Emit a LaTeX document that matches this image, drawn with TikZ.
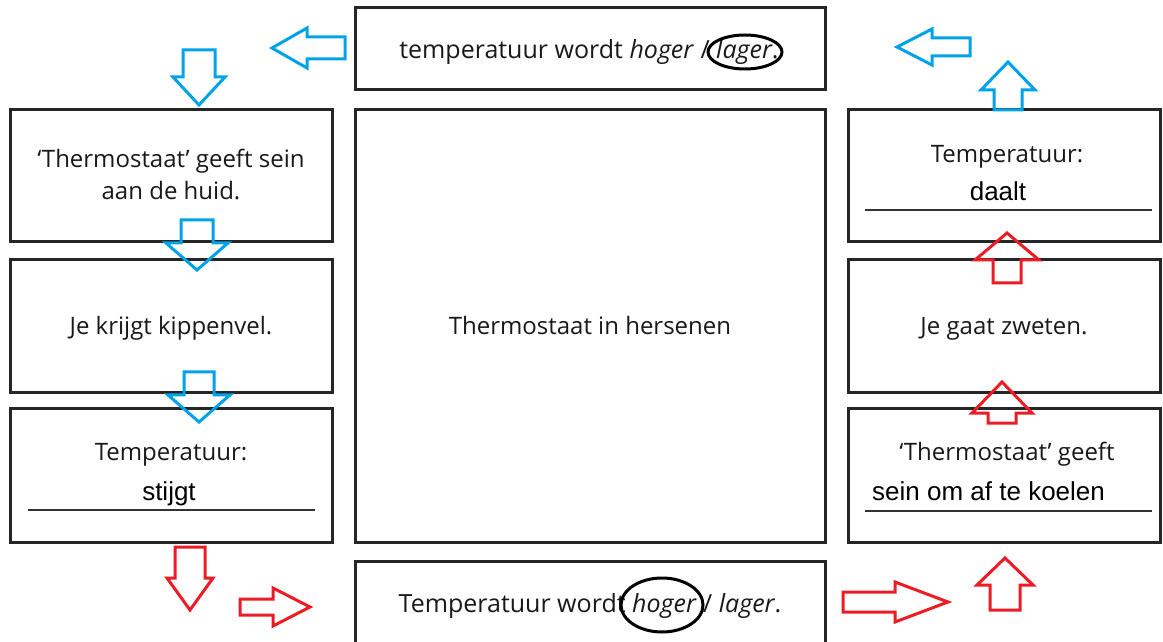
\documentclass[tikz,border=0pt]{standalone}
\usepackage{fontspec}
\setmainfont{Open Sans}
\newfontfamily\arialfont{Liberation Sans}
\definecolor{coldblue}{RGB}{0,162,232}
\definecolor{warmred}{RGB}{237,28,36}
\tikzset{
  box/.style={draw=black!85, line width=3pt, rectangle, inner sep=0pt},
  cold/.style={draw=coldblue, line width=3pt},
  warm/.style={draw=warmred, line width=3pt},
  txt/.style={text=black!90, font=\fontsize{24}{32}\selectfont, inner sep=0pt, anchor=base},
  wide/.style={font=\fontsize{25}{32}\selectfont},
  answer/.style={text=black, font=\arialfont\fontsize{26}{30}\selectfont, inner sep=0pt, anchor=base},
  answerline/.style={draw=black!80, line width=1.5pt},
  circled/.style={draw=black, line width=3pt}
}
\newcommand\hollowarrow[8]{\draw[#1, shift={(#2,#3)}, rotate=#4]
  (0,0) -- (-#6,#7) -- (-#6,#8) -- (-#5,#8) -- (-#5,-#8) -- (-#6,-#8) -- (-#6,-#7) -- cycle;}
\begin{document}
\begin{tikzpicture}[x=1pt, y=1pt]
  \useasboundingbox (0,0) rectangle (1163,641);
  \fill[white] (0,0) rectangle (1163,641);

  \node[box, minimum width=470pt, minimum height=82pt] (heatbox) at (590,592) {};
  \node[box, minimum width=470pt, minimum height=432pt] (brain) at (590,315) {};
  \node[box, minimum width=470pt, minimum height=84pt] (coolbox) at (590,38) {};

  \node[box, minimum width=322pt, minimum height=132pt] (skin) at (171,465) {};
  \node[box, minimum width=322pt, minimum height=133pt] (goose) at (171,314.5) {};
  \node[box, minimum width=322pt, minimum height=134pt] (rise) at (171,166) {};

  \node[box, minimum width=312pt, minimum height=132pt] (fall) at (1004,465) {};
  \node[box, minimum width=312pt, minimum height=133pt] (sweat) at (1004,314.5) {};
  \node[box, minimum width=312pt, minimum height=134pt] (cool) at (1004,166) {};

  \node[txt, wide] (heattext) at (589,582) {temperatuur wordt \textit{hoger} / \textit{lager}.};
  \node[txt] (braintext) at (590,306) {Thermostaat in hersenen};
  \node[txt, wide] (cooltext) at (590,29) {Temperatuur wordt \textit{hoger} / \textit{lager}.};

  \node[txt] (skintop) at (171,473) {‘Thermostaat’ geeft sein};
  \node[txt] (skinbot) at (171,441) {aan de huid.};
  \node[txt] (goosetext) at (171,306) {Je krijgt kippenvel.};
  \node[txt] (risetext) at (171,181) {Temperatuur:};
  \node[answer] (riseanswer) at (169,141) {stijgt};
  \draw[answerline] (28,131) -- (315,131);

  \node[txt] (falltext) at (1007,478) {Temperatuur:};
  \node[answer] (fallanswer) at (998,440) {daalt};
  \draw[answerline] (865,431) -- (1152,431);
  \node[txt] (sweattext) at (1004,306) {Je gaat zweten.};
  \node[txt] (cooltop) at (1007,181) {‘Thermostaat’ geeft};
  \node[answer, anchor=base west] (coolanswer) at (872,141) {sein om af te koelen};
  \draw[answerline] (865,130) -- (1152,130);

  \draw[circled] (745,589) ellipse [x radius=37, y radius=17];
  \draw[circled] (662,36) ellipse [x radius=41, y radius=27];

  \hollowarrow{cold}{272}{593}{180}{73}{35}{20}{11}
  \hollowarrow{cold}{199}{536}{-90}{55}{28}{26}{16}
  \hollowarrow{cold}{197}{371}{-90}{50}{27}{31}{16}
  \hollowarrow{cold}{199}{219}{-90}{50}{27}{31}{15}
  \hollowarrow{cold}{1008}{579}{90}{48}{28}{27}{14}
  \hollowarrow{cold}{897}{594}{180}{73}{35}{18}{9}

  \hollowarrow{warm}{190}{31}{-90}{63}{32}{23}{15}
  \hollowarrow{warm}{310}{34}{0}{70}{37}{19}{8}
  \hollowarrow{warm}{948}{39}{0}{105}{53}{20}{10}
  \hollowarrow{warm}{1005}{83}{90}{52}{27}{28}{15}
  \hollowarrow{warm}{1007}{408}{90}{50}{27}{32}{14}
  \hollowarrow{warm}{1002}{259}{90}{41}{31}{30}{14}
\end{tikzpicture}
\end{document}
